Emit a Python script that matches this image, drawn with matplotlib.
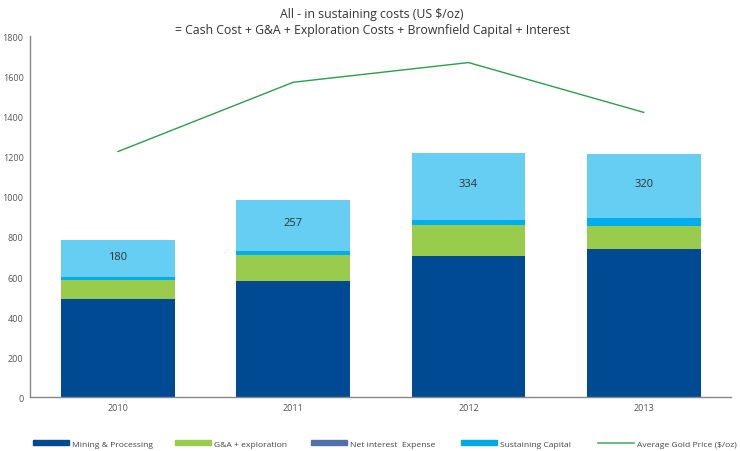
import matplotlib.pyplot as plt
import numpy as np
from matplotlib.patches import Patch
from matplotlib.lines import Line2D

plt.rcParams["font.family"] = ["Open Sans", "DejaVu Sans"]

years = ["2010", "2011", "2012", "2013"]
mining = [490, 580, 705, 740]
g_and_a = [95, 128, 152, 112]
interest = [17, 20, 25, 40]
sustaining = [180, 257, 334, 320]
gold_price = [1225, 1570, 1668, 1420]

c_mining = "#004A93"
c_ga = "#99CC4C"
c_interest = "#00AEEF"
c_sust = "#66CDF3"
c_gold = "#2E9E48"

fig = plt.figure(figsize=(7.4, 4.52), dpi=100)
ax = fig.add_axes([0.0412, 0.1184, 0.947, 0.7996])

x = np.arange(len(years))
w = 0.65
b1 = np.array(mining)
b2 = b1 + np.array(g_and_a)
b3 = b2 + np.array(interest)
ax.bar(x, mining, w, color=c_mining)
ax.bar(x, g_and_a, w, bottom=b1, color=c_ga)
ax.bar(x, interest, w, bottom=b2, color=c_interest)
ax.bar(x, sustaining, w, bottom=b3, color=c_sust)
for xi, base, v in zip(x, b3, sustaining):
    ax.text(xi, base + v * 0.55, str(v), ha="center", va="center",
            fontsize=8, color="#333333")

ax.plot(x, gold_price, color=c_gold, lw=1)

ax.set_xlim(-0.5, 3.5)
ax.set_ylim(0, 1800)
ax.set_yticks(range(0, 1801, 200))
ax.set_xticks(x)
ax.set_xticklabels(years)
ax.tick_params(length=0, labelsize=6.5, colors="#555555", pad=4)
ax.tick_params(axis="y", pad=5)
for s in ["top", "right"]:
    ax.spines[s].set_visible(False)
for s in ["left", "bottom"]:
    ax.spines[s].set_color("#888888")
    ax.spines[s].set_linewidth(1)

fig.text(0.503, 0.950, "All - in sustaining costs (US $/oz)\n= Cash Cost + G&A + Exploration Costs + Brownfield Capital + Interest",
         ha="center", va="center", fontsize=8.8, color="#333333",
         linespacing=1.35, fontweight="medium")

handles = [
    Patch(color=c_mining),
    Patch(color="#99CC4C"),
    Patch(color="#4F6FAD"),
    Patch(color="#00A9E6"),
    Line2D([], [], color="#4CAF6A", lw=1.2),
]
labels = ["Mining & Processing", "G&A + exploration", "Net interest  Expense",
          "Sustaining Capital", "Average Gold Price ($/oz)"]
leg_x = [33, 175, 311, 461, 598]
for h, lab, lx in zip(handles, labels, leg_x):
    leg = fig.legend([h], [lab], loc="center left",
                     bbox_to_anchor=(lx / 740, 0.016), frameon=False,
                     fontsize=6.1, handlelength=4.2, handleheight=0.55,
                     handletextpad=0.4, borderpad=0, borderaxespad=0)
    leg.get_texts()[0].set_color("#444444")

fig.savefig("out.png", dpi=100)
